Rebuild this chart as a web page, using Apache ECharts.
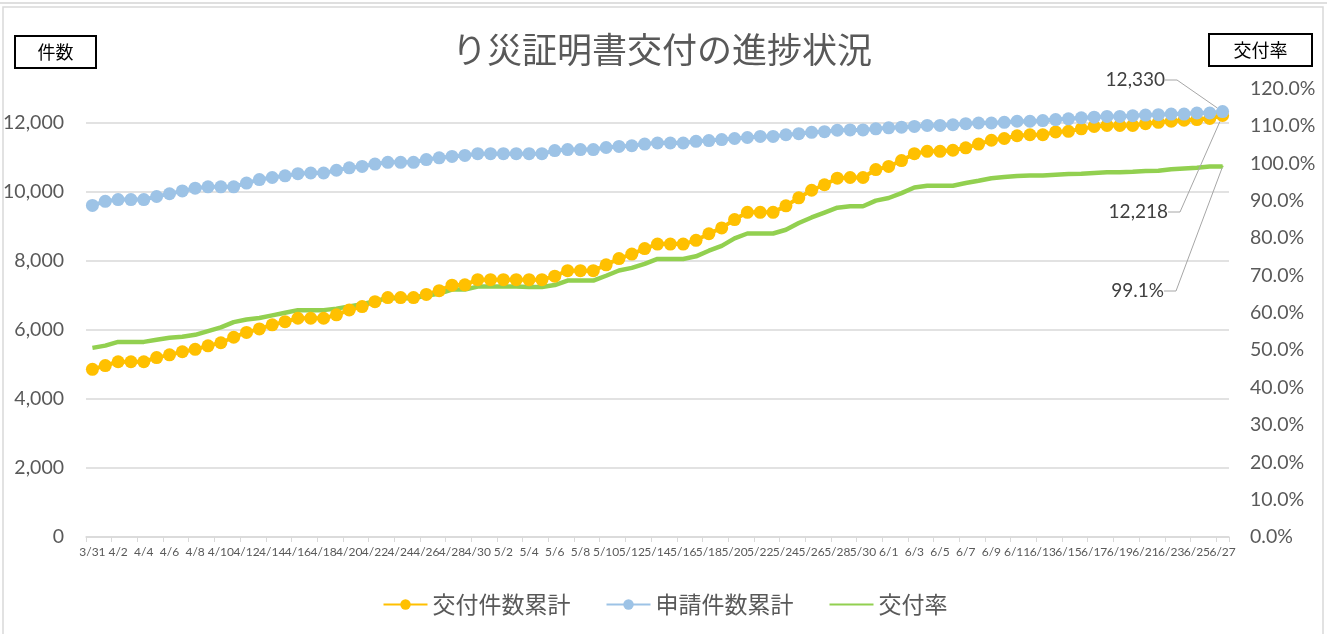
<!DOCTYPE html>
<html>
<head>
<meta charset="utf-8">
<script src="https://cdn.jsdelivr.net/npm/echarts@6/dist/echarts.min.js"></script>
<style>
  html, body { margin: 0; padding: 0; background: #fff; }
  #chart { width: 1330px; height: 634px; }
</style>
</head>
<body>
<div id="chart"></div>
<script>
// 日付（3/31〜6/27）
const dates = [
  '3/31',
  '4/1','4/2','4/3','4/4','4/5','4/6','4/7','4/8','4/9','4/10','4/11','4/12','4/13','4/14','4/15',
  '4/16','4/17','4/18','4/19','4/20','4/21','4/22','4/23','4/24','4/25','4/26','4/27','4/28','4/29','4/30',
  '5/1','5/2','5/3','5/4','5/5','5/6','5/7','5/8','5/9','5/10','5/11','5/12','5/13','5/14','5/15','5/16',
  '5/17','5/18','5/19','5/20','5/21','5/22','5/23','5/24','5/25','5/26','5/27','5/28','5/29','5/30','5/31',
  '6/1','6/2','6/3','6/4','6/5','6/6','6/7','6/8','6/9','6/10','6/11','6/12','6/13','6/14','6/15',
  '6/16','6/17','6/18','6/19','6/20','6/21','6/22','6/23','6/24','6/25','6/26','6/27'
];

// 交付件数累計
const issued = [
  4860, 4970, 5080, 5080, 5080, 5200, 5280, 5370, 5440, 5540,
  5630, 5790, 5930, 6030, 6150, 6240, 6340, 6340, 6340, 6440,
  6580, 6680, 6820, 6940, 6940, 6940, 7030, 7140, 7300, 7310,
  7460, 7460, 7460, 7460, 7460, 7460, 7560, 7720, 7720, 7720,
  7890, 8070, 8200, 8360, 8490, 8490, 8490, 8600, 8790, 8960,
  9200, 9410, 9410, 9410, 9600, 9830, 10050, 10210, 10400, 10420,
  10420, 10650, 10740, 10910, 11110, 11180, 11180, 11210, 11280, 11390,
  11500, 11550, 11630, 11660, 11660, 11740, 11760, 11830, 11900, 11930,
  11930, 11930, 11980, 12020, 12050, 12080, 12100, 12130, 12218
];

// 申請件数累計
const applied = [
  9610, 9730, 9780, 9780, 9780, 9870, 9950, 10030, 10110, 10150,
  10150, 10150, 10260, 10360, 10420, 10470, 10530, 10550, 10550, 10630,
  10700, 10740, 10810, 10860, 10860, 10860, 10940, 10990, 11030, 11060,
  11110, 11110, 11110, 11110, 11110, 11110, 11200, 11230, 11230, 11230,
  11290, 11320, 11340, 11390, 11420, 11420, 11420, 11470, 11490, 11520,
  11550, 11580, 11610, 11610, 11660, 11690, 11730, 11750, 11790, 11800,
  11800, 11830, 11860, 11880, 11900, 11930, 11930, 11950, 11980, 12000,
  12000, 12020, 12050, 12050, 12070, 12100, 12120, 12150, 12170, 12190,
  12190, 12210, 12230, 12240, 12260, 12260, 12290, 12290, 12330
];

// 交付率（%）
const rate = [
  50.6, 51.2, 52.2, 52.2, 52.2, 52.8, 53.3, 53.6, 54.1, 55.1,
  56.1, 57.5, 58.2, 58.6, 59.3, 60.0, 60.7, 60.7, 60.7, 61.1,
  61.7, 62.3, 63.1, 63.9, 63.9, 63.9, 64.6, 65.1, 66.2, 66.2,
  67.0, 67.0, 67.0, 67.0, 66.9, 66.9, 67.4, 68.6, 68.6, 68.6,
  69.9, 71.3, 72.0, 73.1, 74.4, 74.4, 74.4, 75.1, 76.6, 77.9,
  79.9, 81.2, 81.2, 81.2, 82.2, 84.0, 85.5, 86.8, 88.1, 88.5,
  88.5, 90.0, 90.7, 92.0, 93.5, 94.0, 94.0, 94.0, 94.7, 95.3,
  96.0, 96.3, 96.6, 96.7, 96.7, 96.9, 97.1, 97.2, 97.4, 97.6,
  97.6, 97.7, 97.9, 98.0, 98.4, 98.6, 98.8, 99.1, 99.1
];

const last = dates.length - 1;
const jp = '"Noto Sans CJK JP", sans-serif';
const num = 'Lato, "Noto Sans", sans-serif';
const fmt = v => v.toLocaleString('en-US');

// 最後の点だけラベルを出す
const withEndLabel = arr => arr.map((v, i) => i === last ? { value: v, label: { show: true } } : v);

const endLabelStyle = {
  fontFamily: num, fontSize: 19, color: '#404040', padding: [0, 8, 0, 0]
};
const leader = { show: true, length2: 12, lineStyle: { color: '#a6a6a6', width: 1 } };
const dateLabel = { margin: 9, fontFamily: num, fontSize: 12, color: '#595959', hideOverlap: false };

let myChart = echarts.init(document.getElementById('chart'));

let option = {
  animation: false,
  title: {
    text: 'り災証明書交付の進捗状況',
    left: 447,
    top: 27,
    textStyle: { fontFamily: jp, fontSize: 35, fontWeight: 'normal', color: '#595959' }
  },
  legend: {
    left: 'center',
    top: 588,
    itemWidth: 44,
    itemHeight: 13,
    itemGap: 35,
    textStyle: { fontFamily: jp, fontSize: 23, color: '#595959' },
    data: ['交付件数累計', '申請件数累計', { name: '交付率', itemStyle: { opacity: 0 } }]
  },
  grid: { left: 86, right: 101, top: 88.5, bottom: 97 },
  xAxis: [
    {
      type: 'category',
      data: dates,
      boundaryGap: true,
      axisLine: { lineStyle: { color: '#d9d9d9', width: 1.5 } },
      axisTick: { show: true, interval: 1, length: 5, lineStyle: { color: '#d9d9d9' } },
      axisLabel: { ...dateLabel, interval: 1 }
    },
    {
      // 最終日のラベル（重なっても表示するため別軸）
      type: 'category',
      data: dates,
      position: 'bottom',
      boundaryGap: true,
      axisLine: { show: false },
      axisTick: { show: false },
      splitLine: { show: false },
      axisLabel: { ...dateLabel, interval: i => i === last, showMaxLabel: true }
    }
  ],
  yAxis: [
    {
      type: 'value',
      min: 0, max: 13000, interval: 2000,
      axisLine: { show: false },
      axisTick: { show: false },
      axisLabel: {
        showMaxLabel: false, margin: 22,
        fontFamily: num, fontSize: 19.5, color: '#595959',
        formatter: v => fmt(v)
      },
      splitLine: { show: true, showMaxLine: false, lineStyle: { color: '#d9d9d9', width: 1.5 } }
    },
    {
      type: 'value',
      min: 0, max: 120, interval: 10,
      axisLine: { show: false },
      axisTick: { show: false },
      splitLine: { show: false },
      axisLabel: {
        margin: 21, fontFamily: num, fontSize: 19.5, color: '#595959',
        formatter: v => v.toFixed(1) + '%'
      }
    }
  ],
  series: [
    {
      name: '交付件数累計',
      type: 'line',
      yAxisIndex: 0,
      data: withEndLabel(issued),
      symbol: 'circle',
      symbolSize: 13,
      showAllSymbol: true,
      color: '#FFC000',
      lineStyle: { width: 4, color: '#FFC000' },
      label: { show: false, ...endLabelStyle, formatter: p => fmt(p.value) },
      labelLine: leader,
      labelLayout: p => p.dataIndex === last ? { x: 1176, y: 212, align: 'right', verticalAlign: 'middle' } : {}
    },
    {
      name: '申請件数累計',
      type: 'line',
      yAxisIndex: 0,
      data: withEndLabel(applied),
      symbol: 'circle',
      symbolSize: 13,
      showAllSymbol: true,
      color: '#9DC3E6',
      lineStyle: { width: 4, color: '#9DC3E6' },
      label: { show: false, ...endLabelStyle, formatter: p => fmt(p.value) },
      labelLine: leader,
      labelLayout: p => p.dataIndex === last ? { x: 1173, y: 80, align: 'right', verticalAlign: 'middle' } : {}
    },
    {
      name: '交付率',
      type: 'line',
      yAxisIndex: 1,
      data: rate.map((v, i) => i === last
        ? { value: v, symbol: 'circle', symbolSize: 2, label: { show: true } }
        : { value: v, symbol: 'none' }),
      symbol: 'circle',
      symbolSize: 2,
      showAllSymbol: true,
      color: '#92D050',
      lineStyle: { width: 4.5, color: '#92D050' },
      label: { show: false, ...endLabelStyle, formatter: p => p.value.toFixed(1) + '%' },
      labelLine: leader,
      labelLayout: p => p.dataIndex === last ? { x: 1172, y: 291, align: 'right', verticalAlign: 'middle' } : {}
    }
  ],
  graphic: [
    // 外枠
    { type: 'line', shape: { x1: 0, y1: 3, x2: 1327, y2: 3 }, style: { stroke: '#d4d4d4', lineWidth: 1.5 }, silent: true },
    { type: 'rect', shape: { x: 3, y: 7, width: 1320, height: 640 }, style: { fill: 'none', stroke: '#d9d9d9', lineWidth: 1.5 }, silent: true, z: -1 },
    // 軸タイトル
    {
      type: 'group', left: 14, top: 35,
      children: [
        { type: 'rect', shape: { x: 0, y: 0, width: 81, height: 32 }, style: { fill: '#fff', stroke: '#000', lineWidth: 2 } },
        { type: 'text', x: 40.5, y: 16, style: { text: '件数', fontFamily: jp, fontSize: 18, fill: '#000', align: 'center', verticalAlign: 'middle' } }
      ]
    },
    {
      type: 'group', left: 1208, top: 33,
      children: [
        { type: 'rect', shape: { x: 0, y: 0, width: 103, height: 32 }, style: { fill: '#fff', stroke: '#000', lineWidth: 2 } },
        { type: 'text', x: 51.5, y: 16, style: { text: '交付率', fontFamily: jp, fontSize: 18, fill: '#000', align: 'center', verticalAlign: 'middle' } }
      ]
    }
  ]
};

myChart.setOption(option);
</script>
</body>
</html>
